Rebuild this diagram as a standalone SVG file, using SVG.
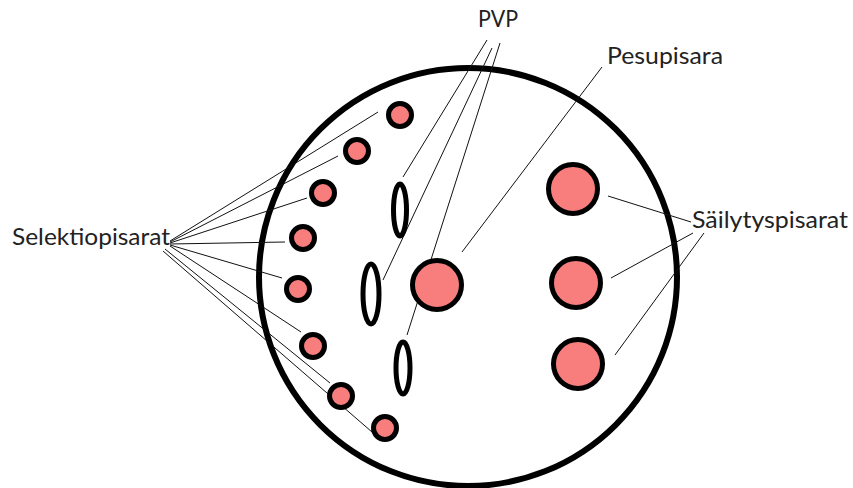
<svg xmlns="http://www.w3.org/2000/svg" width="853" height="488" viewBox="0 0 853 488">
<style>
.lbl{font-family:Lato,"Open Sans","Liberation Sans",sans-serif;font-size:24px;fill:#222}
.ln{stroke:#111;stroke-width:1;fill:none}
.drop{fill:#f87e7e;stroke:#000;stroke-width:5}
.pvp{fill:#fff;stroke:#000;stroke-width:5}
</style>
<rect width="853" height="488" fill="#fff"/>
<g id="cell"><circle cx="468" cy="277" r="209" fill="none" stroke="#000" stroke-width="6"/></g>
<g id="connectors">
<line class="ln" x1="170" y1="241" x2="378" y2="112"/>
<line class="ln" x1="170" y1="242" x2="338" y2="156"/>
<line class="ln" x1="170" y1="243" x2="307" y2="198"/>
<line class="ln" x1="170" y1="244" x2="285" y2="242"/>
<line class="ln" x1="170" y1="245" x2="282" y2="278"/>
<line class="ln" x1="170" y1="246" x2="301" y2="332"/>
<line class="ln" x1="165" y1="249" x2="330" y2="383"/>
<line class="ln" x1="163" y1="251" x2="372" y2="432"/>
<line class="ln" x1="487" y1="40" x2="403" y2="177"/>
<line class="ln" x1="492" y1="48" x2="383" y2="280"/>
<line class="ln" x1="500" y1="43" x2="407" y2="335"/>
<line class="ln" x1="602" y1="67" x2="462" y2="252"/>
<line class="ln" x1="608" y1="196" x2="691" y2="222"/>
<line class="ln" x1="611" y1="278" x2="693" y2="233"/>
<line class="ln" x1="615" y1="355" x2="704" y2="233"/>
</g>
<g id="selektio1"><circle class="drop" cx="400" cy="115" r="11.5"/></g>
<g id="selektio2"><circle class="drop" cx="357" cy="151" r="11.5"/></g>
<g id="selektio3"><circle class="drop" cx="323" cy="193" r="11.5"/></g>
<g id="selektio4"><circle class="drop" cx="303" cy="238" r="11.5"/></g>
<g id="selektio5"><circle class="drop" cx="298" cy="289" r="11.5"/></g>
<g id="selektio6"><circle class="drop" cx="313" cy="346" r="11.5"/></g>
<g id="selektio7"><circle class="drop" cx="341" cy="396" r="11.5"/></g>
<g id="selektio8"><circle class="drop" cx="385" cy="428" r="11.5"/></g>
<g id="pvp1"><ellipse class="pvp" cx="400" cy="210" rx="6.5" ry="26"/></g>
<g id="pvp2"><ellipse class="pvp" cx="371" cy="294" rx="8" ry="30"/></g>
<g id="pvp3"><ellipse class="pvp" cx="403" cy="368" rx="7" ry="26"/></g>
<g id="pesupisara"><circle class="drop" cx="437" cy="285" r="24.5"/></g>
<g id="sailytys1"><circle class="drop" cx="573" cy="189" r="24.5"/></g>
<g id="sailytys2"><circle class="drop" cx="576" cy="283" r="24.5"/></g>
<g id="sailytys3"><circle class="drop" cx="578" cy="364" r="24.5"/></g>
<g id="labels">
<text class="lbl" x="12" y="245" textLength="158" lengthAdjust="spacingAndGlyphs">Selektiopisarat</text>
<text class="lbl" x="478" y="27" textLength="40" lengthAdjust="spacingAndGlyphs">PVP</text>
<text class="lbl" x="607" y="64" textLength="116" lengthAdjust="spacingAndGlyphs">Pesupisara</text>
<text class="lbl" x="692" y="228" textLength="156" lengthAdjust="spacingAndGlyphs">Säilytyspisarat</text>
</g>
</svg>
